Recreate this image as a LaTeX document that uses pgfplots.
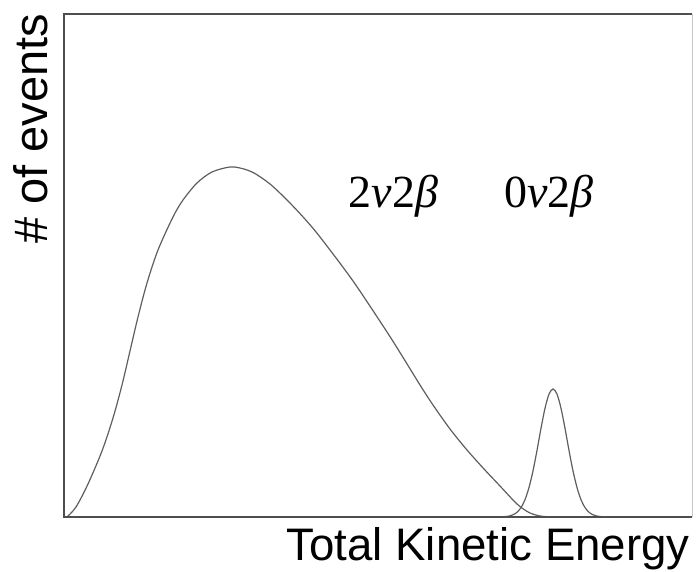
\documentclass[border=0pt]{standalone}
\usepackage{pgfplots}
\pgfplotsset{compat=1.18}
\usepackage{fontspec}
\setmainfont{Liberation Serif}
\newfontfamily\labelfont{Liberation Sans}
\definecolor{curve}{HTML}{5E5E5E}
\definecolor{frame}{HTML}{4E4E4E}
\begin{document}
\begin{tikzpicture}
\useasboundingbox (-32pt,-27.5pt) rectangle (316.5pt,258.5pt);
\begin{axis}[
  at={(0,0)}, anchor=origin,
  scale only axis, width=314pt, height=251.5pt,
  xmin=0, xmax=628, ymin=0, ymax=503,
  axis line style={draw=none},
  ticks=none,
  clip=false,
]
\addplot[curve, line width=0.6pt, smooth, tension=0.5] coordinates {
(3,0) (12,10) (24,33) (38,66) (49,99) (58,132) (66,166) (74,200)
(83,234) (94,267) (109,300) (119,317) (133,334) (148,345) (166,350)
(178,348.5) (190,344) (206,333) (223,317) (240,299) (256,280) (289,236)
(323,185) (340,158) (356,132) (369,112) (386,88) (403,67) (420,48)
(436,31) (453,13) (465,4.5) (476,1) (488,0)
};
\addplot[curve, line width=0.6pt, smooth, tension=0.5] coordinates {
(437,0) (441,0.4) (445,0.9) (449,2.2) (453,4.7) (457,9.4) (461,17.3)
(465,29.5) (469,46.1) (473,66.6) (477,88.7) (481,108.7) (485,122.9)
(489,128) (493,122.9) (497,108.7) (501,88.7) (505,66.6) (509,46.1)
(513,29.5) (517,17.3) (521,9.4) (525,4.7) (529,2.2) (533,0.9)
(537,0.4) (541,0)
};
\draw[black!22, line width=0.5pt] (rel axis cs:1,0) -- (rel axis cs:1,1);
\draw[frame, line width=0.85pt] (rel axis cs:1,1) -- (rel axis cs:0,1) -- (rel axis cs:0,0) -- (rel axis cs:1,0);
\end{axis}
\node[rotate=90, font=\labelfont\fontsize{23.5}{27}\selectfont, inner sep=0pt] at (-16.5pt,194pt) {\# of events};
\node[anchor=base east, font=\labelfont\fontsize{22.8}{26}\selectfont, inner sep=0pt] at (313pt,-22pt) {Total Kinetic Energy};
\node[anchor=base, font=\fontsize{23}{26}\selectfont, inner sep=0pt] at (164.75pt,154.5pt) {2\textit{ν}2\textit{β}};
\node[anchor=base, font=\fontsize{23}{26}\selectfont, inner sep=0pt] at (242.5pt,154.5pt) {0\textit{ν}2\textit{β}};
\end{tikzpicture}
\end{document}
